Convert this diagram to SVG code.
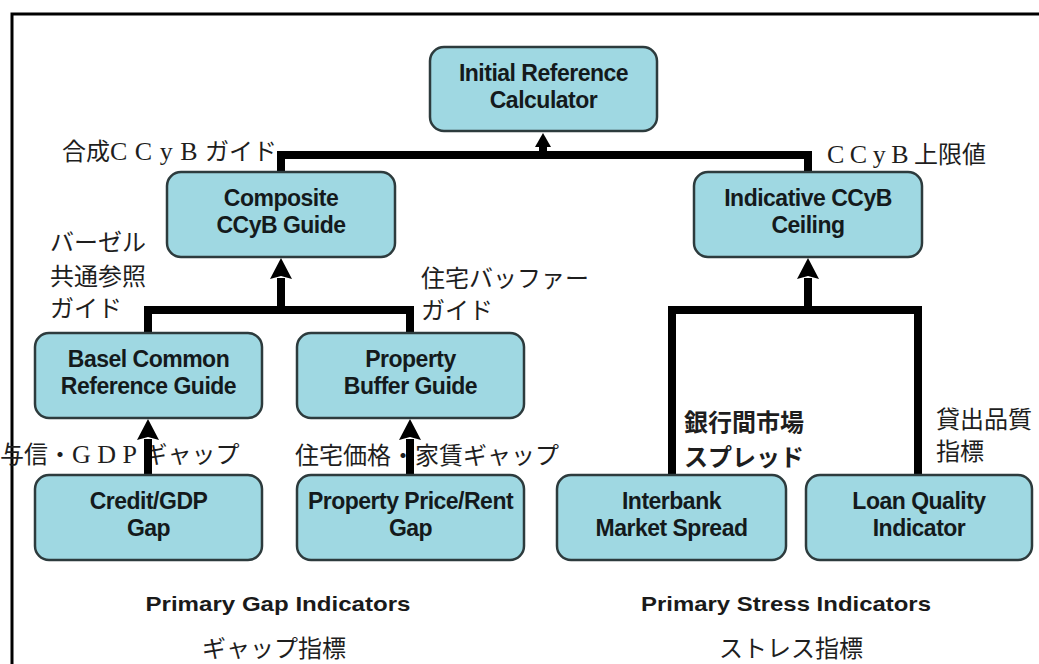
<svg xmlns="http://www.w3.org/2000/svg" width="1039" height="664" viewBox="0 0 1039 664">
<style>
.node rect{fill:#9fd8e2;stroke:#2d3b3d;stroke-width:2.5}
.node text{font-family:"Liberation Sans",Arial,sans-serif;font-weight:bold;font-size:23px;fill:#141a1c;text-anchor:middle;letter-spacing:-0.5px}
.lbl{font-family:"Liberation Serif","Noto Sans CJK JP",serif;font-size:24px;fill:#1e1e1e}
.lat{font-size:26px;letter-spacing:7.5px}
.cap{font-family:"Liberation Sans",Arial,sans-serif;font-weight:bold;font-size:21px;fill:#1a1a1a;text-anchor:middle}
.jc{font-family:"Noto Sans CJK JP",sans-serif;font-size:24px;fill:#1e1e1e;text-anchor:middle}
.conn path{fill:none;stroke:#000;stroke-width:8;stroke-linejoin:miter}
</style>
<defs>
<marker id="ah" markerUnits="userSpaceOnUse" markerWidth="22" markerHeight="24" viewBox="0 -12 22 24" refX="1" refY="0" orient="auto">
<path d="M0,-11 L21,0 L0,11 L3,0 Z" fill="#000"/>
</marker>
<marker id="ahs" markerUnits="userSpaceOnUse" markerWidth="16" markerHeight="18" viewBox="0 -9 16 18" refX="1" refY="0" orient="auto">
<path d="M0,-8 L14,0 L0,8 Z" fill="#000"/>
</marker>
</defs>
<rect width="1039" height="664" fill="#fff"/>
<path d="M12,664 V14 H1039" fill="none" stroke="#000" stroke-width="3"/>

<g id="labels">
<text class="lbl" x="62" y="160">合成<tspan class="lat">CCyB</tspan>ガイド</text>
<text class="lbl" x="827" y="163"><tspan class="lat" style="letter-spacing:5.5px">CCyB</tspan>上限値</text>
<text class="lbl" x="50" y="251">バーゼル</text>
<text class="lbl" x="50" y="285">共通参照</text>
<text class="lbl" x="50" y="317">ガイド</text>
<text class="lbl" x="421" y="287">住宅バッファー</text>
<text class="lbl" x="421" y="319">ガイド</text>
<text class="lbl" x="0" y="463">与信・<tspan class="lat" style="letter-spacing:6.5px">GDP</tspan>ギャップ</text>
<text class="lbl" x="295" y="464">住宅価格・家賃ギャップ</text>
<text class="lbl" x="684" y="431" font-weight="bold">銀行間市場</text>
<text class="lbl" x="684" y="466" font-weight="bold">スプレッド</text>
<text class="lbl" x="936" y="428">貸出品質</text>
<text class="lbl" x="936" y="460">指標</text>
<text class="cap" x="278" y="611" textLength="265" lengthAdjust="spacingAndGlyphs">Primary Gap Indicators</text>
<text class="jc" x="274" y="657">ギャップ指標</text>
<text class="cap" x="786" y="611" textLength="290" lengthAdjust="spacingAndGlyphs">Primary Stress Indicators</text>
<text class="jc" x="791" y="657">ストレス指標</text>
</g>

<g id="connectors" class="conn">
<path d="M281,172 V155 H808 V172"/>
<path d="M543,155 V146" marker-end="url(#ahs)"/>
<path d="M148,333 V310 H410 V333"/>
<path d="M281,310 V278" marker-end="url(#ah)"/>
<path d="M672,475 V310 H918 V475"/>
<path d="M808,310 V278" marker-end="url(#ah)"/>
<path d="M148,475 V439" marker-end="url(#ah)"/>
<path d="M410,475 V439" marker-end="url(#ah)"/>
</g>

<g id="n-initial" class="node">
<rect x="430" y="47" width="227" height="84" rx="14"/>
<text x="543.5" y="81">Initial Reference</text>
<text x="543.5" y="108">Calculator</text>
</g>
<g id="n-composite" class="node">
<rect x="167" y="172" width="228" height="85" rx="14"/>
<text x="281" y="206">Composite</text>
<text x="281" y="233">CCyB Guide</text>
</g>
<g id="n-indicative" class="node">
<rect x="694" y="172" width="228" height="85" rx="14"/>
<text x="808" y="206">Indicative CCyB</text>
<text x="808" y="233">Ceiling</text>
</g>
<g id="n-basel" class="node">
<rect x="35" y="333" width="227" height="85" rx="14"/>
<text x="148.5" y="367">Basel Common</text>
<text x="148.5" y="394">Reference Guide</text>
</g>
<g id="n-propbuf" class="node">
<rect x="297" y="333" width="227" height="85" rx="14"/>
<text x="410.5" y="367">Property</text>
<text x="410.5" y="394">Buffer Guide</text>
</g>
<g id="n-credit" class="node">
<rect x="35" y="475" width="227" height="85" rx="14"/>
<text x="148.5" y="509">Credit/GDP</text>
<text x="148.5" y="536">Gap</text>
</g>
<g id="n-propprice" class="node">
<rect x="297" y="475" width="227" height="85" rx="14"/>
<text x="410.5" y="509">Property Price/Rent</text>
<text x="410.5" y="536">Gap</text>
</g>
<g id="n-interbank" class="node">
<rect x="557" y="475" width="229" height="85" rx="14"/>
<text x="671.5" y="509">Interbank</text>
<text x="671.5" y="536">Market Spread</text>
</g>
<g id="n-loan" class="node">
<rect x="806" y="475" width="226" height="85" rx="14"/>
<text x="919" y="509">Loan Quality</text>
<text x="919" y="536">Indicator</text>
</g>
</svg>
